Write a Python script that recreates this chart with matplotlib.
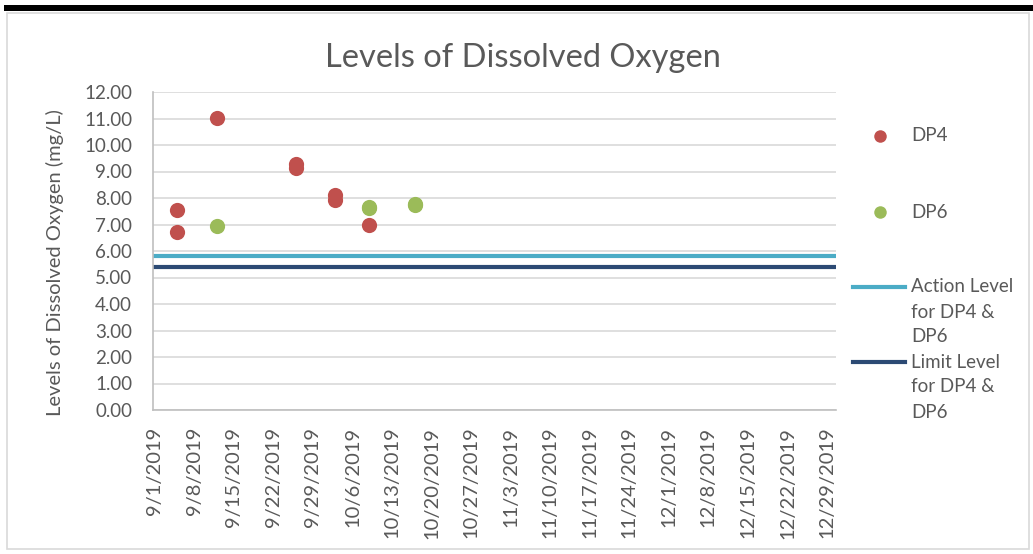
import datetime as dt

import matplotlib.pyplot as plt
from matplotlib.lines import Line2D
from matplotlib.patches import Rectangle

plt.rcParams['font.family'] = ['Lato', 'DejaVu Sans']

# sample dates and readings
dp4_dates = ["2019-09-05", "2019-09-05", "2019-09-12", "2019-09-26", "2019-09-26",
             "2019-10-03", "2019-10-03", "2019-10-09"]
dp4_values = [7.55, 6.73, 11.03, 9.28, 9.14, 8.11, 7.92, 6.99]
dp6_dates = ["2019-09-12", "2019-10-09", "2019-10-09", "2019-10-17", "2019-10-17"]
dp6_values = [6.94, 7.61, 7.65, 7.76, 7.73]
action_level = 5.8
limit_level = 5.4
tick_start = "2019-09-01"
n_ticks = 18

TEXT = '#595959'
GRID = '#d9d9d9'


def to_dates(lst):
    return [dt.datetime.strptime(s, "%Y-%m-%d") for s in lst]


def fy(py):
    return 1 - py / 554


fig = plt.figure(figsize=(10.33, 5.54), dpi=100)
ax = fig.add_axes([153 / 1033, fy(410), (836 - 153) / 1033, (410 - 92) / 554])

start = dt.datetime.strptime(tick_start, "%Y-%m-%d")
ticks = [start + dt.timedelta(days=7 * i) for i in range(n_ticks)]
x0 = start - dt.timedelta(days=0.3)
x1 = ticks[-1] + dt.timedelta(days=1.6)

ax.axhline(action_level, color='#4BACC6', lw=3, zorder=2)
ax.axhline(limit_level, color='#2C4A74', lw=3, zorder=2)
ax.scatter(to_dates(dp4_dates), dp4_values, s=120, color='#C0504D', zorder=3, linewidths=0)
ax.scatter(to_dates(dp6_dates), dp6_values, s=120, color='#9BBB59', zorder=3, linewidths=0)

ax.set_xlim(x0, x1)
ax.set_ylim(0, 12)
ax.set_yticks(range(0, 13))
ax.set_yticklabels([f"{v:.2f}" for v in range(0, 13)])
ax.set_xticks(ticks)
ax.set_xticklabels([f"{d.month}/{d.day}/{d.year}" for d in ticks], rotation=90)
ax.grid(axis='y', color=GRID, lw=1.2, zorder=0)
ax.tick_params(length=0, colors=TEXT)
ax.tick_params(axis='y', labelsize=13.5, pad=15)
ax.tick_params(axis='x', labelsize=14.5, pad=12)
for s in ['top', 'right']:
    ax.spines[s].set_visible(False)
for s in ['left', 'bottom']:
    ax.spines[s].set_color('#bfbfbf')
    ax.spines[s].set_linewidth(1.2)

fig.text(55 / 1033, fy(263), "Levels of Dissolved Oxygen (mg/L)", rotation=90,
         ha='center', va='center', fontsize=14.5, color=TEXT)
fig.text(523 / 1033, fy(58), "Levels of Dissolved Oxygen", ha='center', va='center',
         fontsize=23.5, color=TEXT)

# legend drawn by hand, Excel style
fig.add_artist(Line2D([880 / 1033], [fy(136)], marker='o', ms=9, color='#C0504D', mew=0, ls=''))
fig.add_artist(Line2D([880 / 1033], [fy(212)], marker='o', ms=9, color='#9BBB59', mew=0, ls=''))
fig.add_artist(Line2D([853 / 1033, 905 / 1033], [fy(287)] * 2, color='#4BACC6', lw=3))
fig.add_artist(Line2D([853 / 1033, 905 / 1033], [fy(362)] * 2, color='#2C4A74', lw=3))
leg_text = [(136, "DP4"), (212, "DP6"),
            (287, "Action Level"), (312, "for DP4 &"), (337, "DP6"),
            (362, "Limit Level"), (387, "for DP4 &"), (412, "DP6")]
for py, t in leg_text:
    fig.text(911 / 1033, fy(py), t, ha='left', va='center', fontsize=13.5, color=TEXT)

# chart frame and top bar
fig.add_artist(Rectangle((7 / 1033, fy(549)), (1029 - 7) / 1033, (549 - 13) / 554,
                         fill=False, ec=GRID, lw=1.2))
fig.add_artist(Rectangle((4 / 1033, fy(11)), 1 - 4 / 1033, 5.5 / 554, color='black', lw=0))

fig.savefig("out.png", dpi=100)
